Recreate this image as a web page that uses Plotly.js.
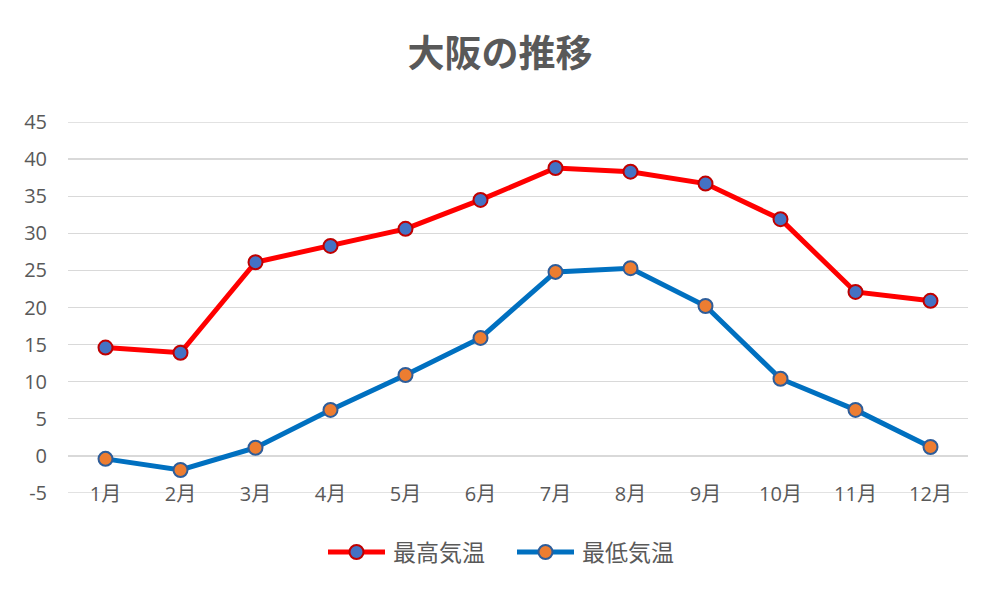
<!DOCTYPE html>
<html><head><meta charset="utf-8">
<script src="https://cdn.plot.ly/plotly-3.0.1.min.js"></script>
<style>html,body{margin:0;padding:0;background:#fff}#c{width:1000px;height:595px;outline:1px solid #d9d9d9;outline-offset:-1px}</style>
</head><body><div id="c"></div>
<script>
const months = ["1月","2月","3月","4月","5月","6月","7月","8月","9月","10月","11月","12月"];
const seriesNames = ["最高気温", "最低気温"];
const maxTemp = [14.6, 13.9, 26.1, 28.3, 30.6, 34.5, 38.8, 38.3, 36.7, 31.9, 22.1, 20.9];
const minTemp = [-0.4, -1.9, 1.1, 6.2, 10.9, 15.9, 24.8, 25.3, 20.2, 10.4, 6.2, 1.2];
const yTicks = [-5, 0, 5, 10, 15, 20, 25, 30, 35, 40, 45];
const yTickText = ["-5", "0", "5", "10", "15", "20", "25", "30", "35", "40", "45"];

const FONT = '"Open Sans", "Noto Sans CJK JP", sans-serif';
const GRID = "#D9D9D9";
const styles = [
  {line: "#FF0000", fill: "#4472C4", edge: "#C00000"},
  {line: "#0070C0", fill: "#ED7D31", edge: "#2E5D9A"}
];
const data = [maxTemp, minTemp];
const traces = data.map((vals, i) => ({
  x: months, y: vals, name: seriesNames[i], type: "scatter", mode: "lines+markers",
  line: {color: styles[i].line, width: 5},
  marker: {size: 14, color: styles[i].fill, line: {color: styles[i].edge, width: 2}}
}));

// manual legend (paper coords; plot spans x 68..968, y 122..493 px)
const L = 68, W = 900, B = 493, H = 371;
const px = v => (v - L) / W, py = v => (B - v) / H;
const legendX = [328, 517], legendY = 552;
const shapes = [], annotations = [];
// boundary gridlines (Plotly hides gridlines at the exact range ends)
[yTicks[0], yTicks[yTicks.length - 1]].forEach(v => {
  shapes.push({type: "line", xref: "paper", yref: "y", x0: 0, x1: 1, y0: v, y1: v,
    layer: "below", line: {color: GRID, width: 1.3}});
});
legendX.forEach((x0, i) => {
  shapes.push({type: "line", xref: "paper", yref: "paper", x0: px(x0), x1: px(x0 + 57),
    y0: py(legendY), y1: py(legendY), line: {color: styles[i].line, width: 5}});
  const r = 7;
  shapes.push({type: "circle", xref: "paper", yref: "paper",
    x0: px(x0 + 28.5 - r), x1: px(x0 + 28.5 + r), y0: py(legendY - r), y1: py(legendY + r),
    fillcolor: styles[i].fill, line: {color: styles[i].edge, width: 2}});
  annotations.push({xref: "paper", yref: "paper", x: px(x0 + 63), y: py(legendY), xanchor: "left",
    yanchor: "middle", showarrow: false, text: seriesNames[i],
    font: {family: FONT, size: 23, color: "#595959"}});
});

const layout = {
  width: 1000, height: 595,
  margin: {l: L, r: 1000 - L - W, t: 122, b: 595 - B},
  paper_bgcolor: "#fff", plot_bgcolor: "#fff",
  font: {family: FONT, color: "#595959", size: 20},
  showlegend: false,
  title: {text: "<b>大阪の推移</b>", x: 0.5, xanchor: "center", y: 0.91, yanchor: "middle",
          font: {family: FONT, size: 37, color: "#595959"}},
  xaxis: {type: "category", range: [-0.5, 11.5], showgrid: false, zeroline: false, showline: false,
          ticks: "", tickfont: {size: 20, color: "#595959"}, ticklabelstandoff: -13, fixedrange: true},
  yaxis: {range: [-5, 45], tickvals: yTicks, ticktext: yTickText, showgrid: true,
          gridcolor: GRID, gridwidth: 1.3,
          zeroline: false, showline: false, ticks: "", ticklabelstandoff: 20,
          tickfont: {size: 20, color: "#595959"}, fixedrange: true},
  shapes: shapes, annotations: annotations
};
Plotly.newPlot("c", traces, layout, {staticPlot: true, displayModeBar: false});
</script></body></html>
